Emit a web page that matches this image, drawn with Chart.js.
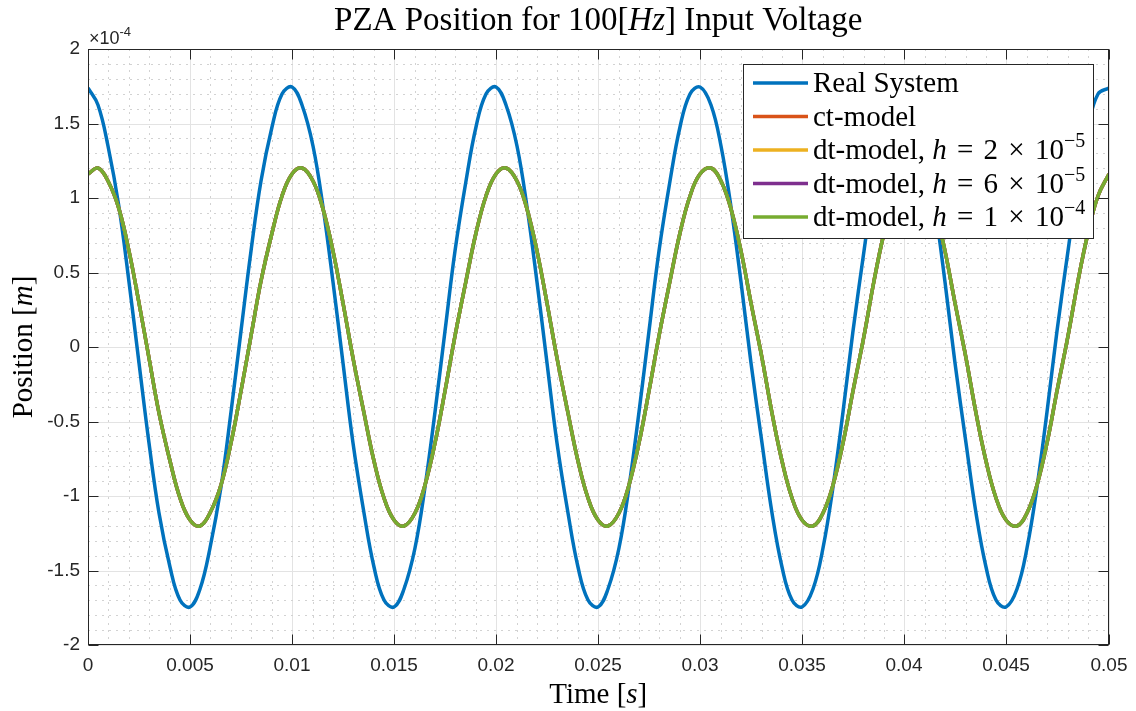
<!DOCTYPE html>
<html>
<head>
<meta charset="utf-8">
<title>PZA Position for 100[Hz] Input Voltage</title>
<script src="https://cdn.jsdelivr.net/npm/chart.js@4.4.1/dist/chart.umd.min.js"></script>
<style>
  html, body { margin: 0; padding: 0; background: #fff; }
</style>
</head>
<body>
<canvas id="pzaChart" width="1136" height="711"></canvas>
<script>
// Time axis [s], one sample every 0.5 ms
const timeS = [
  0, 0.0005, 0.001, 0.0015, 0.002, 0.0025, 0.003, 0.0035, 0.004, 0.0045,
  0.005, 0.0055, 0.006, 0.0065, 0.007, 0.0075, 0.008, 0.0085, 0.009, 0.0095,
  0.01, 0.0105, 0.011, 0.0115, 0.012, 0.0125, 0.013, 0.0135, 0.014, 0.0145,
  0.015, 0.0155, 0.016, 0.0165, 0.017, 0.0175, 0.018, 0.0185, 0.019, 0.0195,
  0.02, 0.0205, 0.021, 0.0215, 0.022, 0.0225, 0.023, 0.0235, 0.024, 0.0245,
  0.025, 0.0255, 0.026, 0.0265, 0.027, 0.0275, 0.028, 0.0285, 0.029, 0.0295,
  0.03, 0.0305, 0.031, 0.0315, 0.032, 0.0325, 0.033, 0.0335, 0.034, 0.0345,
  0.035, 0.0355, 0.036, 0.0365, 0.037, 0.0375, 0.038, 0.0385, 0.039, 0.0395,
  0.04, 0.0405, 0.041, 0.0415, 0.042, 0.0425, 0.043, 0.0435, 0.044, 0.0445,
  0.045, 0.0455, 0.046, 0.0465, 0.047, 0.0475, 0.048, 0.0485, 0.049, 0.0495,
  0.05
];

// Position [x1e-4 m]
const realSystem = [
  1.735, 1.627, 1.348, 0.938, 0.435, -0.110, -0.644, -1.115, -1.478, -1.695,
  -1.747, -1.627, -1.348, -0.938, -0.435, 0.110, 0.644, 1.115, 1.478, 1.695,
  1.745, 1.627, 1.348, 0.938, 0.435, -0.110, -0.644, -1.115, -1.478, -1.695,
  -1.747, -1.627, -1.348, -0.938, -0.435, 0.110, 0.644, 1.115, 1.478, 1.695,
  1.745, 1.627, 1.348, 0.938, 0.435, -0.110, -0.644, -1.115, -1.478, -1.695,
  -1.747, -1.627, -1.348, -0.938, -0.435, 0.110, 0.644, 1.115, 1.478, 1.695,
  1.745, 1.627, 1.348, 0.938, 0.435, -0.110, -0.644, -1.115, -1.478, -1.695,
  -1.747, -1.627, -1.348, -0.938, -0.435, 0.110, 0.644, 1.115, 1.478, 1.695,
  1.745, 1.627, 1.348, 0.938, 0.435, -0.110, -0.644, -1.115, -1.478, -1.695,
  -1.747, -1.627, -1.348, -0.938, -0.435, 0.110, 0.644, 1.115, 1.478, 1.695,
  1.740
];

const ctModel = [
  1.162, 1.198, 1.116, 0.925, 0.643, 0.298, -0.075, -0.442, -0.765, -1.013,
  -1.162, -1.198, -1.116, -0.925, -0.643, -0.298, 0.075, 0.442, 0.765, 1.013,
  1.162, 1.198, 1.116, 0.925, 0.643, 0.298, -0.075, -0.442, -0.765, -1.013,
  -1.162, -1.198, -1.116, -0.925, -0.643, -0.298, 0.075, 0.442, 0.765, 1.013,
  1.162, 1.198, 1.116, 0.925, 0.643, 0.298, -0.075, -0.442, -0.765, -1.013,
  -1.162, -1.198, -1.116, -0.925, -0.643, -0.298, 0.075, 0.442, 0.765, 1.013,
  1.162, 1.198, 1.116, 0.925, 0.643, 0.298, -0.075, -0.442, -0.765, -1.013,
  -1.162, -1.198, -1.116, -0.925, -0.643, -0.298, 0.075, 0.442, 0.765, 1.013,
  1.162, 1.198, 1.116, 0.925, 0.643, 0.298, -0.075, -0.442, -0.765, -1.013,
  -1.162, -1.198, -1.116, -0.925, -0.643, -0.298, 0.075, 0.442, 0.765, 1.013,
  1.162
];

// the three discrete-time models sit on top of the ct-model in the picture
const dtModelH2 = ctModel;
const dtModelH6 = ctModel;
const dtModelH10 = ctModel;

const xTicks = [0, 0.005, 0.01, 0.015, 0.02, 0.025, 0.03, 0.035, 0.04, 0.045, 0.05];
const yTicks = [-2, -1.5, -1, -0.5, 0, 0.5, 1, 1.5, 2];

const seriesNames = ["Real System", "ct-model", "dt-model, h = 2 × 10⁻⁵", "dt-model, h = 6 × 10⁻⁵", "dt-model, h = 1 × 10⁻⁴"];
const seriesColors = ["#0072BD", "#D95319", "#EDB120", "#7E2F8E", "#77AC30"];
const stepMantissa = [null, null, "2", "6", "1"];
const stepExponent = [null, null, "−5", "−5", "−4"];

const SERIF = '"Liberation Serif", "Times New Roman", serif';
const SANS = '"Liberation Sans", Arial, sans-serif';
const INK = "#262626";

const rm = (t, size) => ({ t, font: size + "px " + SERIF });
const it = (t, size) => ({ t, font: "italic " + size + "px " + SERIF });
const sup = (t, size, dy) => ({ t, font: size + "px " + SERIF, dy });
const gap = px => ({ t: "", font: "10px " + SERIF, gap: px });

function segWidth(ctx, s) {
  ctx.font = s.font;
  return ctx.measureText(s.t).width + (s.gap || 0);
}

function drawRich(ctx, segs, x, y, align) {
  let w = 0;
  segs.forEach(s => { w += segWidth(ctx, s); });
  let cx = align === "center" ? x - w / 2 : x;
  segs.forEach(s => {
    ctx.font = s.font;
    if (s.t) ctx.fillText(s.t, cx, y + (s.dy || 0));
    cx += segWidth(ctx, s);
  });
}

function toPoints(ys) {
  return timeS.map((t, i) => ({ x: t, y: ys[i] }));
}

// MATLAB-like decorations: minor grid, box, inner ticks, labels, legend
const matlabDecor = {
  id: "matlabDecor",
  beforeDatasetsDraw(chart) {
    const { ctx, chartArea: a, scales } = chart;
    ctx.save();
    ctx.strokeStyle = "#d2d2d2";
    ctx.lineWidth = 1;
    ctx.setLineDash([2, 5]);
    for (let k = 1; k < 50; k++) {
      if (k % 5 === 0) continue;
      const px = Math.round(scales.x.getPixelForValue(k * 0.001)) + 0.5;
      ctx.beginPath(); ctx.moveTo(px, a.top); ctx.lineTo(px, a.bottom); ctx.stroke();
    }
    for (let k = -19; k < 20; k++) {
      if (k % 5 === 0) continue;
      const py = Math.round(scales.y.getPixelForValue(k * 0.1)) + 0.5;
      ctx.beginPath(); ctx.moveTo(a.left, py); ctx.lineTo(a.right, py); ctx.stroke();
    }
    ctx.restore();
  },
  afterDatasetsDraw(chart) {
    const { ctx, chartArea: a, scales } = chart;
    ctx.save();
    ctx.strokeStyle = INK;
    ctx.lineWidth = 1;
    ctx.setLineDash([]);
    const L = Math.round(a.left) + 0.5, R = Math.round(a.right) - 0.5;
    const T = Math.round(a.top) + 0.5, B = Math.round(a.bottom) - 0.5;
    ctx.strokeRect(L, T, R - L, B - T);
    ctx.beginPath();
    xTicks.forEach(v => {
      const px = Math.round(scales.x.getPixelForValue(v)) + 0.5;
      ctx.moveTo(px, B); ctx.lineTo(px, B - 10);
      ctx.moveTo(px, T); ctx.lineTo(px, T + 10);
    });
    yTicks.forEach(v => {
      const py = Math.round(scales.y.getPixelForValue(v)) + 0.5;
      ctx.moveTo(L, py); ctx.lineTo(L + 10, py);
      ctx.moveTo(R, py); ctx.lineTo(R - 10, py);
    });
    ctx.stroke();

    ctx.fillStyle = INK;
    ctx.textAlign = "left";
    ctx.textBaseline = "alphabetic";
    // exponent of the y axis
    drawRich(ctx, [
      { t: "×10", font: "18px " + SANS },
      { t: "-4", font: "13px " + SANS, dy: -8 }
    ], a.left + 1, a.top - 5, "left");

    ctx.fillStyle = "#000";
    const cx = (a.left + a.right) / 2;
    drawRich(ctx, [rm("PZA Position for 100[", 33), it("Hz", 33), rm("] Input Voltage", 33)], cx, 30, "center");
    drawRich(ctx, [rm("Time [", 29), it("s", 29), rm("]", 29)], cx, 703, "center");

    ctx.save();
    ctx.translate(32, (a.top + a.bottom) / 2);
    ctx.rotate(-Math.PI / 2);
    drawRich(ctx, [rm("Position [", 29), it("m", 29), rm("]", 29)], 0, 0, "center");
    ctx.restore();

    // legend
    const bx = 743.5, by = 64.5, bw = 350, bh = 174;
    ctx.fillStyle = "#fff";
    ctx.fillRect(bx, by, bw, bh);
    ctx.strokeStyle = INK;
    ctx.strokeRect(bx, by, bw, bh);
    seriesNames.forEach((name, i) => {
      const ry = 83 + i * 33.5;
      ctx.strokeStyle = seriesColors[i];
      ctx.lineWidth = 3.5;
      ctx.beginPath(); ctx.moveTo(753, ry); ctx.lineTo(808, ry); ctx.stroke();
      ctx.fillStyle = "#000";
      const base = ry + 9;
      if (stepMantissa[i] === null) {
        drawRich(ctx, [rm(name, 29)], 813, base, "left");
      } else {
        drawRich(ctx, [
          rm("dt-model, ", 29), it("h", 29), gap(3), rm(" = ", 29), gap(3),
          rm(stepMantissa[i], 29), gap(3), rm(" × ", 29), gap(3), rm("10", 29),
          sup(stepExponent[i], 20, -12)
        ], 813, base, "left");
      }
    });
    ctx.restore();
  }
};

const seriesData = [realSystem, ctModel, dtModelH2, dtModelH6, dtModelH10];

new Chart(document.getElementById("pzaChart"), {
  type: "line",
  data: {
    datasets: seriesData.map((ys, i) => ({
      label: seriesNames[i],
      data: toPoints(ys),
      borderColor: seriesColors[i],
      backgroundColor: seriesColors[i],
      borderWidth: 3.5,
      pointRadius: 0,
      tension: 0.4,
      fill: false,
      order: seriesData.length - i
    }))
  },
  options: {
    responsive: false,
    devicePixelRatio: 1,
    animation: false,
    layout: { padding: { top: 49, right: 26, left: 0, bottom: 0 } },
    plugins: { legend: { display: false }, title: { display: false }, tooltip: { enabled: false } },
    scales: {
      x: {
        type: "linear", min: 0, max: 0.05,
        afterFit: s => { s.height = 66; },
        afterBuildTicks: s => { s.ticks = xTicks.map(v => ({ value: v })); },
        ticks: {
          autoSkip: false, maxRotation: 0, padding: 9, color: INK,
          font: { family: SANS, size: 19 },
          callback: v => String(Number(v.toFixed(3)))
        },
        grid: { color: "#e3e3e3", lineWidth: 1, drawTicks: false },
        border: { display: false },
        alignToPixels: true
      },
      y: {
        type: "linear", min: -2, max: 2,
        afterFit: s => { s.width = 88; },
        afterBuildTicks: s => { s.ticks = yTicks.map(v => ({ value: v })); },
        ticks: {
          autoSkip: false, padding: 8, color: INK,
          font: { family: SANS, size: 19 },
          callback: v => String(Number(v.toFixed(1)))
        },
        grid: { color: "#e3e3e3", lineWidth: 1, drawTicks: false },
        border: { display: false },
        alignToPixels: true
      }
    }
  },
  plugins: [matlabDecor]
});
</script>
</body>
</html>
